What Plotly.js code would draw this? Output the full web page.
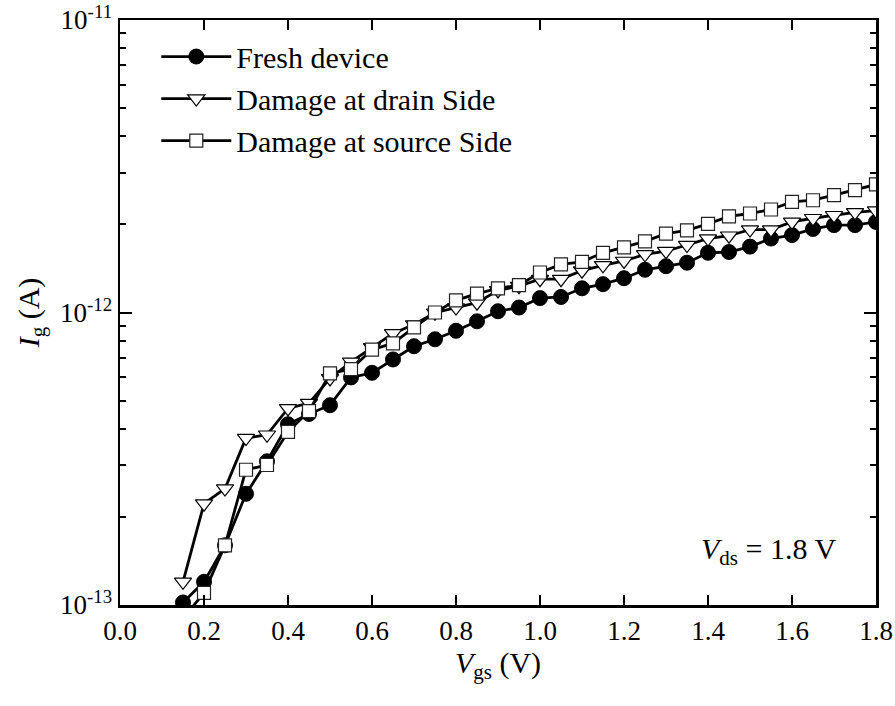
<!DOCTYPE html>
<html>
<head>
<meta charset="utf-8">
<script src="https://cdn.plot.ly/plotly-3.0.1.min.js"></script>
<style>html,body{margin:0;padding:0;background:#fff;}#chart{width:895px;height:706px;}</style>
</head>
<body>
<div id="chart"></div>
<script>
// Gate voltage (V)
const vgs = [0.15,0.20,0.25,0.30,0.35,0.40,0.45,0.50,0.55,0.60,0.65,0.70,0.75,0.80,0.85,0.90,0.95,1.00,1.05,1.10,1.15,1.20,1.25,1.30,1.35,1.40,1.45,1.50,1.55,1.60,1.65,1.70,1.75,1.80];
// Gate current, in units of 1e-13 A
const freshE13 = [1.02,1.20,1.60,2.40,3.10,4.15,4.50,4.82,6.00,6.22,6.91,7.67,8.10,8.66,9.33,10.1,10.4,11.2,11.3,12.1,12.5,13.1,14.0,14.4,14.8,16.0,16.1,16.8,17.9,18.4,19.3,19.9,19.9,20.4];
const drainE13 = [1.20,2.22,2.50,3.72,3.82,4.70,4.90,5.95,6.78,7.60,8.48,9.10,9.98,10.4,10.8,11.9,12.3,13.0,13.0,13.9,14.5,15.0,15.8,16.2,17.0,17.9,18.3,19.2,19.2,20.4,21.0,21.5,22.0,22.3];
const sourceE13 = [0.90,1.10,1.60,2.90,3.01,3.91,4.60,6.19,6.40,7.47,7.84,8.90,10.0,11.0,11.6,12.1,12.4,13.7,14.6,14.9,16.0,16.7,17.5,18.6,19.1,20.1,21.3,21.8,22.5,23.9,24.2,25.2,26.2,27.4];
const seriesNames = ["Fresh device","Damage at drain Side","Damage at source Side"];
const yTickVals = [1e-13,1e-12,1e-11];
const yTickText = ["10<sup>-13</sup>","10<sup>-12</sup>","10<sup>-11</sup>"];
const xTickVals = [0.0,0.2,0.4,0.6,0.8,1.0,1.2,1.4,1.6,1.8];
const xTickText = ["0.0","0.2","0.4","0.6","0.8","1.0","1.2","1.4","1.6","1.8"];

const toA = arr => arr.map(v => v * 1e-13);
const FONT = "Liberation Serif, Times New Roman, serif";

const traces = [
  {x: vgs, y: toA(freshE13), name: seriesNames[0], mode: "lines+markers",
   line: {color: "#000", width: 2.8},
   marker: {symbol: "circle", size: 15, color: "#000", line: {color: "#000", width: 1}}},
  {x: vgs, y: toA(drainE13), name: seriesNames[1], mode: "lines+markers",
   line: {color: "#000", width: 2.8},
   marker: {symbol: "triangle-down", size: 15, color: "#fff", line: {color: "#000", width: 1.2}}},
  {x: vgs, y: toA(sourceE13), name: seriesNames[2], mode: "lines+markers",
   line: {color: "#000", width: 2.8},
   marker: {symbol: "square", size: 13, color: "#fff", line: {color: "#222", width: 1.2}}}
];

const layout = {
  width: 895, height: 706,
  margin: {l: 120, r: 19, t: 20, b: 101},
  paper_bgcolor: "#fff", plot_bgcolor: "#fff",
  font: {family: FONT, color: "#000", size: 27},
  showlegend: true,
  legend: {x: 0.048, y: 0.982, xanchor: "left", yanchor: "top",
           bgcolor: "rgba(0,0,0,0)", font: {family: FONT, size: 30, color: "#000"},
           itemwidth: 70, tracegroupgap: 0},
  xaxis: {
    range: [0, 1.8], tickvals: xTickVals, ticktext: xTickText,
    ticks: "inside", ticklen: 10, tickwidth: 2, tickcolor: "#000",
    showline: true, linecolor: "#000", linewidth: 2.5, mirror: "allticks",
    showgrid: false, zeroline: false,
    tickfont: {family: FONT, size: 27, color: "#000"},
    title: {text: "<i>V</i><sub>gs</sub> (V)", font: {family: FONT, size: 30, color: "#000"}, standoff: 0}
  },
  yaxis: {
    type: "log", range: [-13, -11], tickvals: yTickVals, ticktext: yTickText,
    ticks: "inside", ticklen: 12, tickwidth: 2, tickcolor: "#000",
    minor: {ticks: "inside", ticklen: 6, tickwidth: 2, tickcolor: "#000", dtick: "D1", showgrid: false},
    showline: true, linecolor: "#000", linewidth: 2.5, mirror: "allticks",
    showgrid: false, zeroline: false,
    tickfont: {family: FONT, size: 27, color: "#000"},
    title: {text: "<i>I</i><sub>g</sub> (A)", font: {family: FONT, size: 30, color: "#000"}, standoff: 12}
  },
  annotations: [
    {xref: "x", yref: "y", x: 1.545, y: Math.log10(1.53e-13), text: "<i>V</i><sub>ds</sub> = 1.8 V",
     showarrow: false, font: {family: FONT, size: 30, color: "#000"}}
  ]
};

Plotly.newPlot("chart", traces, layout, {displayModeBar: false, staticPlot: true});
</script>
</body>
</html>
